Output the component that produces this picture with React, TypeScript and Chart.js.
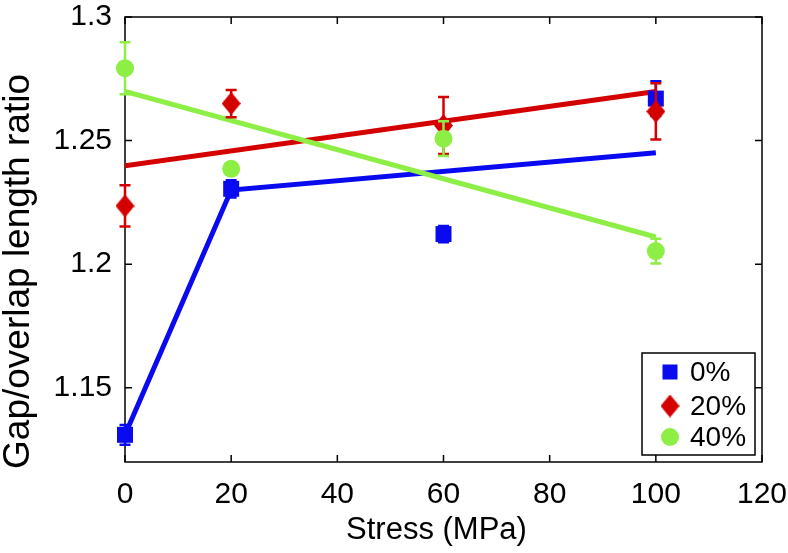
import React, { useEffect, useRef } from 'react';
import { Chart, registerables } from 'chart.js';

Chart.register(...registerables);

const stress = [0, 20, 60, 100];
const ratio0 = [1.131, 1.2305, 1.2122, 1.267];
const err0 = [0.004, 0.0035, 0.0033, 0.007];
const ratio20 = [1.2236, 1.265, 1.2561, 1.2618];
const err20 = [0.0083, 0.0055, 0.0115, 0.0114];
const ratio40 = [1.2793, 1.2386, 1.2508, 1.2053];
const err40 = [0.0105, 0.0015, 0.007, 0.005];

const fit0X = [0, 20, 100];
const fit0Y = [1.131, 1.23, 1.2451];
const fit20X = [0, 100];
const fit20Y = [1.2398, 1.2699];
const fit40X = [0, 100];
const fit40Y = [1.2699, 1.211];

const xTicks = [0, 20, 40, 60, 80, 100, 120];
const yTicks = [1.15, 1.2, 1.25, 1.3];
const seriesLabels = ['0%', '20%', '40%'];
const xTitle = 'Stress (MPa)';
const yTitle = 'Gap/overlap length ratio';

const BLUE = '#0a0af0';
const RED = '#d40000';
const GREEN = '#8def45';
const FONT = '"Liberation Sans", Arial, Helvetica, sans-serif';

const pts = (xs: number[], ys: number[]) => xs.map((x, i) => ({ x, y: ys[i] }));

function makeDiamond(w: number, h: number, color: string) {
  const c = document.createElement('canvas');
  c.width = w;
  c.height = h;
  const g = c.getContext('2d')!;
  g.fillStyle = color;
  g.beginPath();
  g.moveTo(w / 2, 0);
  g.lineTo(w, h / 2);
  g.lineTo(w / 2, h);
  g.lineTo(0, h / 2);
  g.closePath();
  g.fill();
  return c;
}

export default function App() {
  const ref = useRef<HTMLCanvasElement>(null);

  useEffect(() => {
    if (!ref.current) return;
    const diamond = makeDiamond(19, 23, RED);

    const errorBars = {
      id: 'errorBars',
      beforeDatasetDraw(chart: any, args: any) {
        const ds = chart.data.datasets[args.index];
        if (!ds.errors) return;
        const ctx = chart.ctx;
        const ys = chart.scales.y;
        ctx.save();
        ctx.strokeStyle = ds.errColor;
        ctx.lineWidth = 2.5;
        args.meta.data.forEach((el: any, i: number) => {
          const v = ds.data[i].y;
          const e = ds.errors[i];
          const x = el.x;
          const t = ys.getPixelForValue(v + e);
          const b = ys.getPixelForValue(v - e);
          ctx.beginPath();
          ctx.moveTo(x, t);
          ctx.lineTo(x, b);
          ctx.moveTo(x - 5.5, t);
          ctx.lineTo(x + 5.5, t);
          ctx.moveTo(x - 5.5, b);
          ctx.lineTo(x + 5.5, b);
          ctx.stroke();
        });
        ctx.restore();
      },
    };

    const boxPlugin = {
      id: 'box',
      beforeDatasetsDraw(chart: any) {
        const { ctx, chartArea: a, scales } = chart;
        ctx.save();
        ctx.strokeStyle = '#000';
        ctx.lineWidth = 1.5;
        ctx.strokeRect(a.left, a.top, a.right - a.left, a.bottom - a.top);
        const tl = 7;
        ctx.beginPath();
        xTicks.forEach((v) => {
          const x = scales.x.getPixelForValue(v);
          ctx.moveTo(x, a.bottom);
          ctx.lineTo(x, a.bottom - tl);
          ctx.moveTo(x, a.top);
          ctx.lineTo(x, a.top + tl);
        });
        yTicks.forEach((v) => {
          const y = scales.y.getPixelForValue(v);
          ctx.moveTo(a.left, y);
          ctx.lineTo(a.left + tl, y);
          ctx.moveTo(a.right, y);
          ctx.lineTo(a.right - tl, y);
        });
        ctx.stroke();
        ctx.restore();
      },
    };

    const titlesPlugin = {
      id: 'axisTitles',
      afterDraw(chart: any) {
        const { ctx, chartArea: a } = chart;
        ctx.save();
        ctx.fillStyle = '#000';
        ctx.textAlign = 'center';
        ctx.textBaseline = 'middle';
        ctx.font = `31px ${FONT}`;
        ctx.fillText(xTitle, (a.left + a.right) / 2 - 7, a.bottom + 68);
        ctx.translate(19, (a.top + a.bottom) / 2 + 32);
        ctx.rotate(-Math.PI / 2);
        ctx.font = `37px ${FONT}`;
        ctx.fillText(yTitle, 0, 0);
        ctx.restore();
      },
    };

    const legendPlugin = {
      id: 'customLegend',
      afterDraw(chart: any) {
        const { ctx, chartArea: a } = chart;
        const w = 113;
        const h = 102;
        const right = a.right - 7;
        const bottom = a.bottom - 7;
        const left = right - w;
        const top = bottom - h;
        ctx.save();
        ctx.fillStyle = '#fff';
        ctx.fillRect(left, top, w, h);
        ctx.strokeStyle = '#000';
        ctx.lineWidth = 1.5;
        ctx.strokeRect(left, top, w, h);
        const mx = left + 28;
        const rows = [top + 19, top + 53, top + 84];
        ctx.fillStyle = BLUE;
        ctx.fillRect(mx - 7.5, rows[0] - 7.5, 15, 15);
        ctx.drawImage(diamond, mx - 9.5, rows[1] - 11.5);
        ctx.fillStyle = GREEN;
        ctx.beginPath();
        ctx.arc(mx, rows[2], 9, 0, Math.PI * 2);
        ctx.fill();
        ctx.fillStyle = '#000';
        ctx.font = `28px ${FONT}`;
        ctx.textBaseline = 'middle';
        ctx.textAlign = 'left';
        seriesLabels.forEach((s, i) => ctx.fillText(s, left + 48, rows[i] + 1));
        ctx.restore();
      },
    };

    const lineDs = (xs: number[], ys: number[], color: string, order: number) => ({
      data: pts(xs, ys),
      showLine: true,
      borderColor: color,
      borderWidth: 5,
      pointRadius: 0,
      pointHoverRadius: 0,
      fill: false,
      order,
    });

    const chart = new Chart(ref.current, {
      type: 'scatter',
      data: {
        datasets: [
          lineDs(fit0X, fit0Y, BLUE, 5),
          lineDs(fit20X, fit20Y, RED, 4),
          lineDs(fit40X, fit40Y, GREEN, 3),
          {
            label: seriesLabels[0],
            data: pts(stress, ratio0),
            errors: err0,
            errColor: BLUE,
            showLine: false,
            pointStyle: 'rect',
            pointRadius: 11.3,
            pointBackgroundColor: BLUE,
            pointBorderWidth: 0,
            clip: false,
            order: 2,
          } as any,
          {
            label: seriesLabels[1],
            data: pts(stress, ratio20),
            errors: err20,
            errColor: RED,
            showLine: false,
            pointStyle: diamond,
            pointRadius: 10,
            pointBackgroundColor: RED,
            pointBorderWidth: 0,
            clip: false,
            order: 1,
          } as any,
          {
            label: seriesLabels[2],
            data: pts(stress, ratio40),
            errors: err40,
            errColor: GREEN,
            showLine: false,
            pointStyle: 'circle',
            pointRadius: 9,
            pointBackgroundColor: GREEN,
            pointBorderWidth: 0,
            clip: false,
            order: 0,
          } as any,
        ],
      },
      options: {
        animation: false,
        responsive: false,
        events: [],
        layout: { padding: { left: 0, right: 26, top: 17, bottom: 0 } },
        plugins: { legend: { display: false }, tooltip: { enabled: false } },
        scales: {
          x: {
            type: 'linear',
            min: 0,
            max: 120,
            grid: { display: false, drawTicks: false },
            border: { display: false },
            ticks: { font: { size: 30, family: FONT }, color: '#000', padding: 15, maxRotation: 0, autoSkip: false },
            afterBuildTicks: (s: any) => {
              s.ticks = xTicks.map((v) => ({ value: v }));
            },
            afterFit: (s: any) => {
              s.height = 91;
              s.paddingLeft = 0;
              s.paddingRight = 0;
            },
            title: { display: false },
          },
          y: {
            type: 'linear',
            min: 1.12,
            max: 1.3,
            grid: { display: false, drawTicks: false },
            border: { display: false },
            ticks: {
              font: { size: 30, family: FONT, lineHeight: 1 },
              color: '#000',
              padding: 13,
              autoSkip: false,
              callback: (v: any) => `${+(+v).toFixed(4)}`,
            },
            afterBuildTicks: (s: any) => {
              s.ticks = yTicks.map((v) => ({ value: v }));
            },
            afterFit: (s: any) => {
              s.width = 125;
              s.paddingTop = 0;
              s.paddingBottom = 0;
            },
            title: { display: false },
          },
        },
      },
      plugins: [boxPlugin, errorBars, legendPlugin, titlesPlugin],
    } as any);

    return () => chart.destroy();
  }, []);

  return (
    <div style={{ position: 'absolute', left: 0, top: 0, width: 788, height: 553, background: '#fff' }}>
      <canvas ref={ref} width={788} height={553} style={{ display: 'block' }} />
    </div>
  );
}
